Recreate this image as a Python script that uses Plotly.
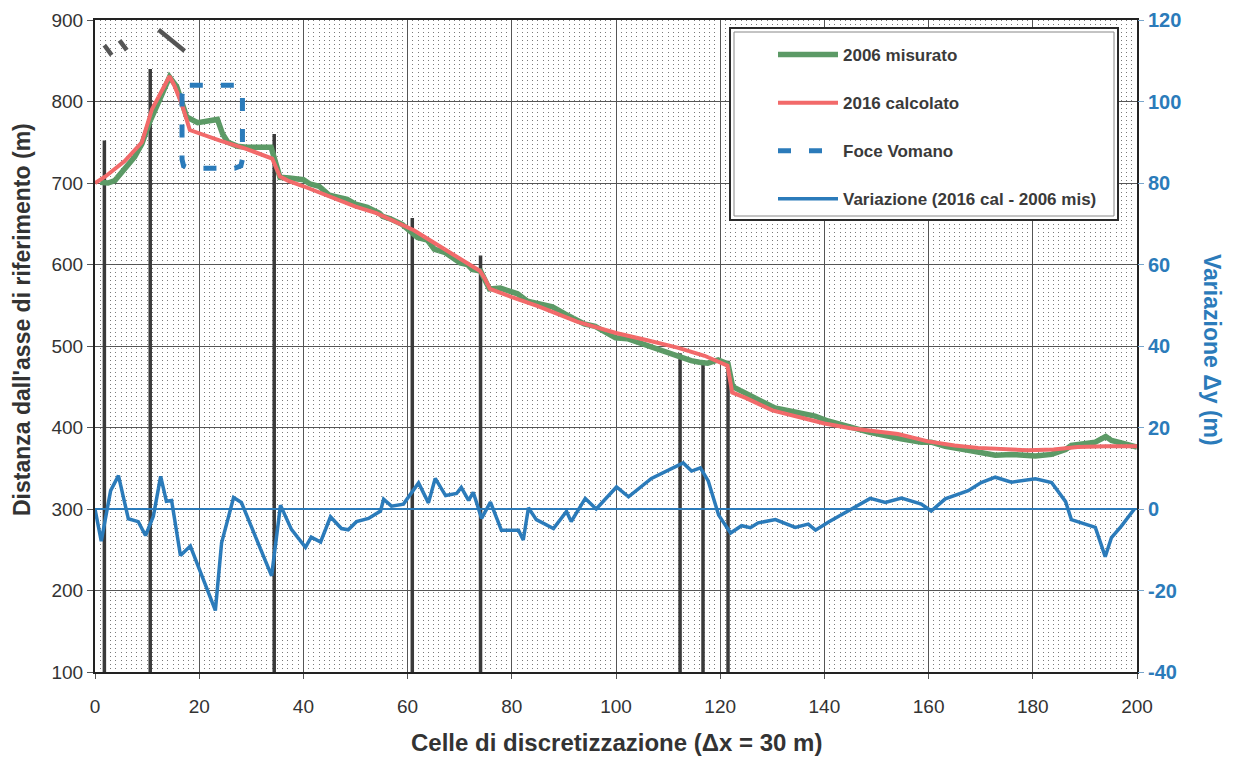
import plotly.graph_objects as go

# ---------------- data ----------------
x_green = [1, 2.5, 3.8, 5.7, 7.6, 9, 10.5, 11.9, 13, 14.3, 15.7, 17.6, 19.7, 22, 23.5, 24.5, 25.5, 27.4, 29, 33.8,
           34.8, 35.5, 37.3, 40, 41.2, 43, 45, 47, 48.4, 50, 52.3, 54.6, 55.2, 56.7, 59, 61.9, 63.8, 65.1, 67.1,
           69.2, 70.1, 71.5, 72.4, 74, 75.7, 77.8, 81.1, 83, 84.5, 87.8, 90.3, 93.9, 96, 99.9, 102.2, 106.6, 109.4,
           112.8, 114.4, 116, 117.6, 119.6, 121.5, 122.4, 124, 125.6, 127.2, 130.5, 134.3, 138.2, 140.7, 145.9,
           148.7, 154.7, 158.6, 160.5, 163.2, 167.6, 170.1, 172.8, 175.9, 180.5, 183.6, 186.3, 187.4, 189.3, 192,
           194, 195.1, 197, 200]
y_green = [701, 700, 703, 718, 732, 748, 775, 795, 812, 830, 818, 781, 774, 776, 778, 760, 750, 745, 744, 744,
           725, 707, 706, 704, 699, 696, 685, 683, 680, 674, 670, 663, 659, 656, 649, 633, 630, 619, 615,
           606, 602, 600, 594, 592, 570, 571, 564, 555, 553, 548, 539, 527, 524, 510, 509, 499, 492,
           485, 482, 480, 479, 483, 478, 450, 445, 440, 434, 424, 419, 414, 408, 398,
           394, 386, 382, 382, 377, 372, 369, 366, 367, 365, 367, 373, 378, 380, 382,
           389, 384, 381, 376]

x_red = [0, 2, 5.7, 9, 10.9, 12.5, 14.3, 15.2, 16.7, 18.2, 19.5, 24, 29, 34, 35.5, 37, 40, 45, 50, 54, 58, 61.2,
         65, 70, 73.9, 74.8, 75.8, 80, 85, 92.5, 100, 106, 111.8, 117, 121.4, 122.3, 125, 130, 134.9, 140, 145,
         150, 154.1, 159.9, 165, 169.5, 175, 179.1, 184, 188.6, 194, 200]
y_red = [700, 708, 727, 750, 790, 810, 831, 820, 796, 765, 762, 752, 742, 730, 708, 703, 696, 683, 671, 663, 652,
         642, 627, 608, 592, 583, 570, 560, 549, 530, 516, 507, 498, 488, 476, 443, 436, 421, 413, 405, 399,
         395, 392, 383, 378, 375, 373, 372, 373, 376, 377, 377]

x_var = [0, 1.2, 3.0, 4.5, 6.4, 8.3, 9.7, 11.2, 12.6, 13.7, 14.7, 16.4, 18.3, 20.4, 23.1, 24.3, 26.6, 28.1, 33.9,
         35.6, 37.7, 40.4, 41.5, 43.3, 45.2, 47.3, 48.6, 50.2, 52.5, 54.8, 55.4, 56.9, 59.2, 62.1, 64.0, 65.3,
         67.3, 69.4, 70.3, 71.7, 72.6, 74.2, 75.9, 78.0, 81.3, 82.2, 83.2, 84.7, 88.0, 90.5, 91.4, 94.1, 96.2,
         100.1, 102.4, 106.8, 109.5, 112.9, 114.5, 116.2, 117.7, 119.7, 122.0, 124.1, 125.8, 127.3, 130.6,
         134.4, 136.9, 138.3, 140.8, 146.0, 148.8, 151.7, 154.8, 158.6, 160.5, 163.2, 167.6, 170.1, 172.8,
         175.9, 180.5, 183.6, 186.3, 187.4, 189.3, 192.0, 193.9, 195.1, 197.0, 199.5]
y_var = [0, -7.9, 4.5, 8.2, -2.4, -3.1, -6.5, -1.8, 8.0, 1.9, 2.1, -11.4, -9.1, -15.8, -24.9, -8.3, 2.8, 1.6,
         -16.4, 0.9, -5.0, -9.4, -6.9, -8.1, -1.9, -4.8, -5.1, -3.1, -2.3, -0.5, 2.4, 0.7, 1.2, 6.4, 1.5, 7.5,
         3.3, 3.8, 5.3, 2.1, 4.1, -2.3, 1.7, -5.2, -5.2, -7.6, 0.3, -2.6, -4.8, -0.6, -3.1, 2.6, 0.0,
         5.4, 3.0, 7.5, 9.2, 11.3, 9.3, 10.1, 6.9, -1.5, -5.9, -4.1, -4.6, -3.4, -2.6,
         -4.5, -3.7, -5.2, -3.2, 0.6, 2.6, 1.6, 2.7, 1.2, -0.5, 2.5, 4.5, 6.5, 7.8,
         6.6, 7.4, 6.5, 1.8, -2.6, -3.3, -4.5, -11.7, -7.0, -4.2, 0.0]

x_zero = [0, 200]
y_zero = [0, 0]

foce_x = [18.2, 26.8, 28.0, 28.3, 28.3, 28.0, 26.8, 18.2, 17.0, 16.7, 16.7, 17.0, 18.2]
foce_y = [820, 820, 817, 808, 729, 721, 718, 718, 721, 729, 808, 817, 820]

struct_x = [1.8, 10.6, 34.4, 60.9, 74.0, 112.3, 116.7, 121.5]
struct_top = [752, 840, 760, 657, 611, 491, 479, 482]
struct_base = 100

mark_x0 = [1.8, 4.7, 12.2]
mark_y0 = [869, 875, 888]
mark_x1 = [3.2, 6.1, 17.2]
mark_y1 = [857, 863, 862]

x_ticks = list(range(0, 201, 20))
y_ticks = list(range(100, 901, 100))
y2_ticks = list(range(-40, 121, 20))
y2_labels = [str(v) for v in y2_ticks]

# ---------------- styles ----------------
FONT = "Liberation Sans, Arial, sans-serif"
GREEN = "#5c9a66"
RED = "#f26a6a"
BLUE = "#2b7bba"
DARK = "#333333"

assert len(x_var) == len(y_var) and len(x_green) == len(y_green) and len(x_red) == len(y_red)

sx, sy = [], []
for xv, top in zip(struct_x, struct_top):
    sx += [xv, xv, None]
    sy += [struct_base, top, None]

mx, my = [], []
for a, b, c, d in zip(mark_x0, mark_y0, mark_x1, mark_y1):
    mx += [a, c, None]
    my += [b, d, None]

fig = go.Figure()

fig.add_trace(go.Scatter(x=sx, y=sy, mode="lines", line=dict(color="#3a3a3a", width=3.5),
                         showlegend=False, hoverinfo="skip"))
fig.add_trace(go.Scatter(x=mx, y=my, mode="lines", line=dict(color="#555555", width=4.5),
                         showlegend=False, hoverinfo="skip"))

fig.add_trace(go.Scatter(x=x_green, y=y_green, mode="lines", name="2006 misurato",
                         line=dict(color=GREEN, width=5.5), legendgroup="g1"))
fig.add_trace(go.Scatter(x=x_red, y=y_red, mode="lines", name="2016 calcolato",
                         line=dict(color=RED, width=4), legendgroup="g2"))
fig.add_trace(go.Scatter(x=foce_x, y=foce_y, mode="lines", name="Foce Vomano",
                         line=dict(color=BLUE, width=5, dash="13px,18px"), legendgroup="g3"))
fig.add_trace(go.Scatter(x=x_zero, y=y_zero, mode="lines", yaxis="y2",
                         line=dict(color=BLUE, width=2), showlegend=False, hoverinfo="skip"))
fig.add_trace(go.Scatter(x=x_var, y=y_var, mode="lines", yaxis="y2",
                         name="Variazione (2016 cal - 2006 mis)",
                         line=dict(color=BLUE, width=3.5), legendgroup="g4"))

# plot area: x 95..1137, y 20..672
L, R, T, B = 95, 96, 20, 85
W, H = 1233, 757
pw, ph = W - L - R, H - T - B

def px_x(p):
    return (p - L) / pw

def px_y(p):
    return (H - B - p) / ph

fig.update_layout(
    width=W, height=H,
    margin=dict(l=L, r=R, t=T, b=B, autoexpand=False),
    paper_bgcolor="white", plot_bgcolor="white",
    font=dict(family=FONT, color=DARK),
    xaxis=dict(range=[0, 200], tickvals=x_ticks, showgrid=True, gridcolor="#555555", gridwidth=1,
               showline=True, linecolor="#222222", linewidth=2, mirror=True,
               ticks="outside", ticklen=5, tickcolor="#555555",
               tickfont=dict(family=FONT, size=19, color=DARK), ticklabelstandoff=11,
               minor=dict(dtick=1, showgrid=True, gridcolor="#7a7a7a", gridwidth=1, griddash="1px,3px"),
               zeroline=False),
    yaxis=dict(range=[100, 900], tickvals=y_ticks, showgrid=True, gridcolor="#555555", gridwidth=1,
               showline=True, linecolor="#222222", linewidth=2, mirror=True,
               ticks="outside", ticklen=6, tickcolor="#555555",
               tickfont=dict(family=FONT, size=19, color=DARK), zeroline=False),
    yaxis2=dict(range=[-40, 120], tickvals=y2_ticks, ticktext=y2_labels, overlaying="y", side="right",
                showgrid=False, ticks="outside", ticklen=6, tickcolor="#7aa6cc",
                tickfont=dict(family=FONT, size=20, color=BLUE, weight="bold"),
                zeroline=False, showline=False),
    legend=dict(x=px_x(773), y=px_y(37), xanchor="left", yanchor="top",
                bgcolor="rgba(0,0,0,0)", borderwidth=0,
                font=dict(family=FONT, size=17, color="#3a3a3a", weight="bold"),
                itemwidth=60, tracegroupgap=23, traceorder="grouped"),
    shapes=[
        dict(type="rect", xref="paper", yref="paper", x0=px_x(730), x1=px_x(1118), y0=px_y(220), y1=px_y(28),
             fillcolor="white", line=dict(color="#2a2a2a", width=2), layer="above"),
        dict(type="rect", xref="paper", yref="paper", x0=px_x(734), x1=px_x(1114), y0=px_y(216), y1=px_y(32),
             fillcolor="rgba(0,0,0,0)", line=dict(color="#888888", width=1), layer="above"),
    ],
    annotations=[
        dict(text="Distanza dall'asse di riferimento (m)", xref="paper", yref="paper",
             x=px_x(22), y=px_y(320), xanchor="center", yanchor="middle", textangle=-90, showarrow=False,
             font=dict(family=FONT, size=23, color=DARK, weight="bold")),
        dict(text="Variazione Δy (m)", xref="paper", yref="paper",
             x=px_x(1212), y=px_y(350), xanchor="center", yanchor="middle", textangle=90, showarrow=False,
             font=dict(family=FONT, size=23, color=BLUE, weight="bold")),
        dict(text="Celle di discretizzazione (Δx = 30 m)", xref="paper", yref="paper",
             x=px_x(616), y=px_y(742), xanchor="center", yanchor="middle", showarrow=False,
             font=dict(family=FONT, size=24, color=DARK, weight="bold")),
    ],
)

fig.write_html("out.html")
